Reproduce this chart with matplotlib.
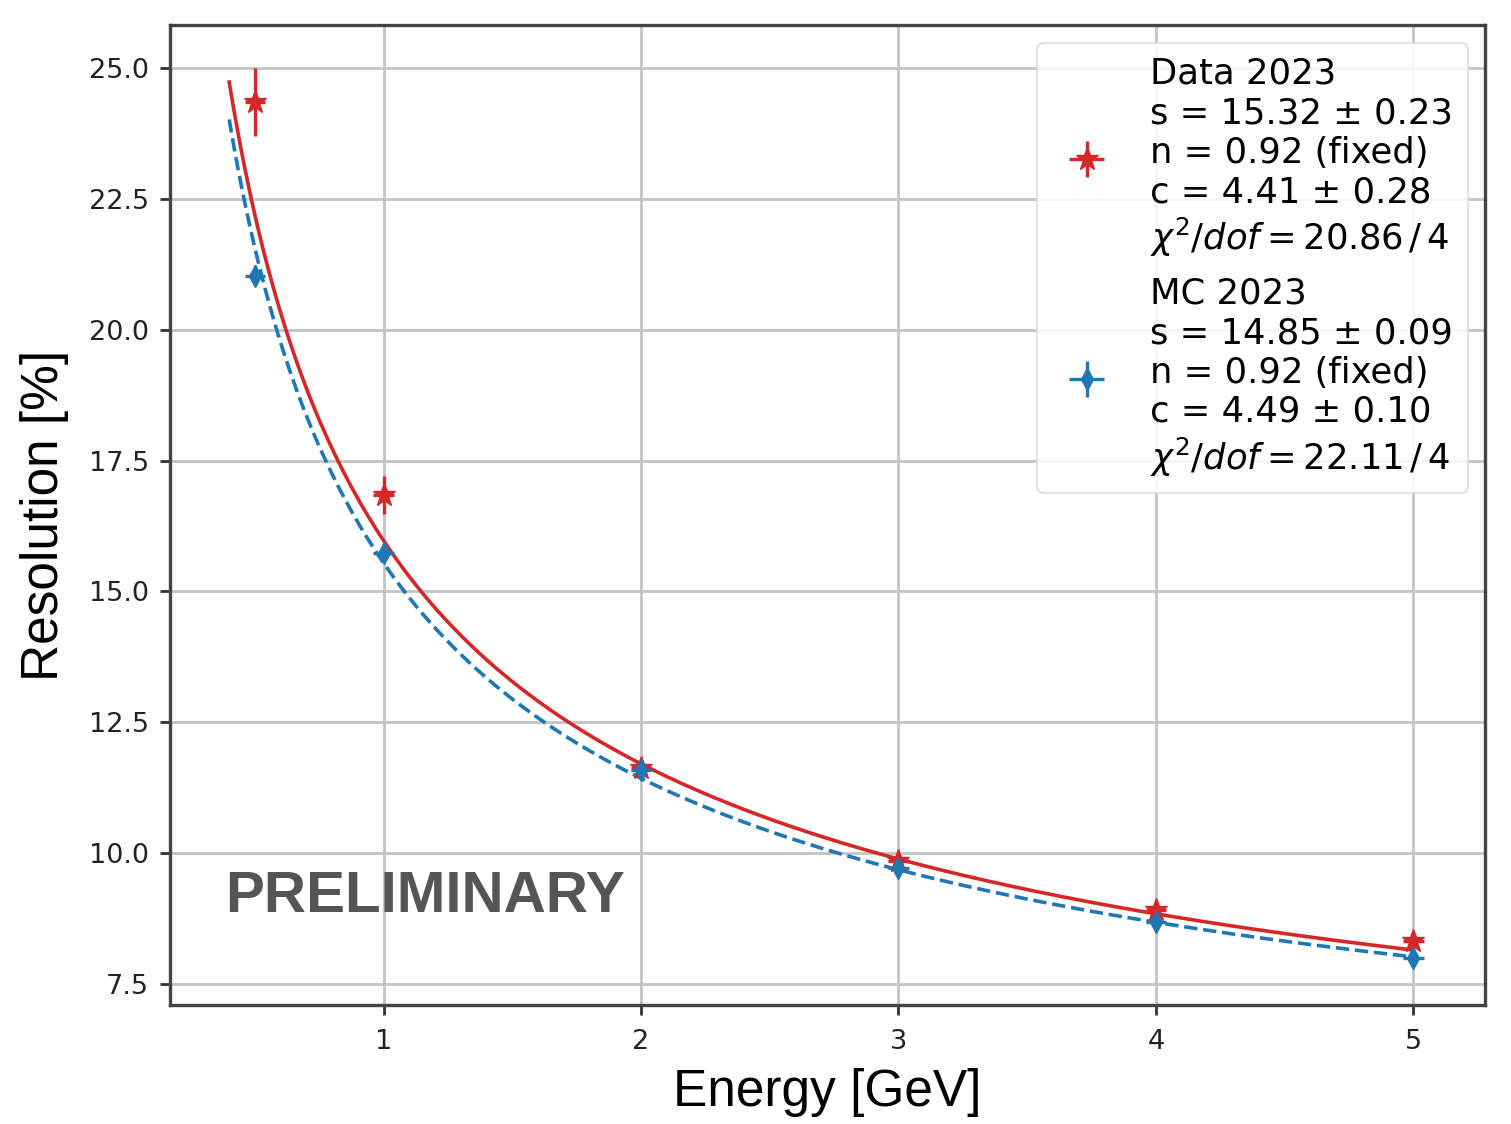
import numpy as np
import matplotlib
matplotlib.use("Agg")
import matplotlib.pyplot as plt

# Energy points [GeV]
energia = [0.5, 1, 2, 3, 4, 5]

# Data 2023
res_data = [24.35, 16.84, 11.63, 9.85, 8.91, 8.32]
err_data = [0.65, 0.37, 0.15, 0.12, 0.10, 0.10]
# MC 2023
res_mc = [21.03, 15.73, 11.59, 9.72, 8.68, 8.00]
err_mc = [0.20, 0.12, 0.08, 0.06, 0.05, 0.05]
xerr = [0.04, 0.04, 0.04, 0.04, 0.04, 0.04]

# fit parameters (s, n, c) from the legend
fit_data = (15.32, 0.92, 4.41)
fit_mc = (14.85, 0.92, 4.49)

lab_data = ("Data 2023\ns = 15.32 ± 0.23\nn = 0.92 (fixed)\nc = 4.41 ± 0.28\n"
            r"$\chi^2/dof = 20.86\,/\,4$")
lab_mc = ("MC 2023\ns = 14.85 ± 0.09\nn = 0.92 (fixed)\nc = 4.49 ± 0.10\n"
          r"$\chi^2/dof = 22.11\,/\,4$")


def resolucion(E, s, n, c):
    ''' sigma/E = s/sqrt(E) (+) n/E (+) c '''
    return np.sqrt(s**2 / E + n**2 / E**2 + c**2)


rojo = '#d62728'
azul = '#1f77b4'

fig = plt.figure(figsize=(15.11, 11.24), dpi=100)
ax = fig.add_axes([0.1125, 0.1059, 0.8705, 0.8719])

xk = np.linspace(0.4, 5.0, 300)
ax.plot(xk, resolucion(xk, *fit_data), color=rojo, lw=2.6, zorder=3)
ax.plot(xk, resolucion(xk, *fit_mc), color=azul, lw=2.6, ls='--', zorder=3)

ax.errorbar(energia, res_data, yerr=err_data, xerr=xerr, fmt='*', color=rojo,
            ms=17, elinewidth=2.4, capsize=0, label=lab_data, zorder=4)
ax.errorbar(energia, res_mc, yerr=err_mc, xerr=xerr, fmt='d', color=azul,
            ms=11, elinewidth=2.4, capsize=0, label=lab_mc, zorder=4)

ax.text(0.385, 9.16, 'PRELIMINARY', fontsize=42, fontweight='bold',
        family='Liberation Sans', color='#555555', va='center', ha='left')

ax.set_xlim(0.17, 5.28)
ax.set_ylim(7.1, 25.82)
ax.set_xticks([1, 2, 3, 4, 5])
ax.set_yticks(np.arange(7.5, 25.1, 2.5))
ax.tick_params(labelsize=19.5, length=7, width=2, colors='#333333', labelcolor='#222222')
ax.tick_params(axis='x', pad=10)
ax.tick_params(axis='y', pad=8)
for sp in ax.spines.values():
    sp.set_linewidth(2.4)
    sp.set_color('#444444')

ax.set_xlabel('Energy [GeV]', fontsize=37, family='Liberation Sans', labelpad=10)
ax.set_ylabel('Resolution [%]', fontsize=37, family='Liberation Sans', labelpad=14)

ax.grid(True, color='#c4c4c4', lw=2.0)
ax.set_axisbelow(True)

leg = ax.legend(loc='upper right', fontsize=25.5, framealpha=0.85,
                edgecolor='#dddddd')
leg.get_frame().set_linewidth(1.5)

fig.savefig('out.png', dpi=100)
